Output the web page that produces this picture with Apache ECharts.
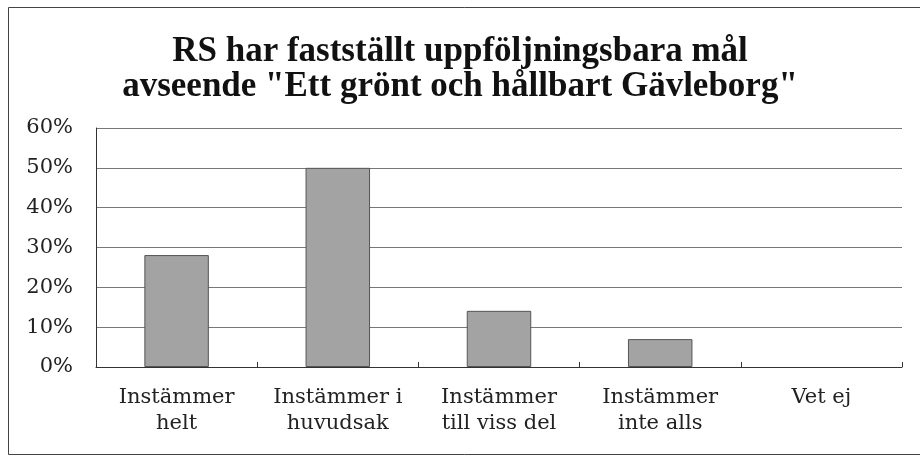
<!DOCTYPE html>
<html>
<head>
<meta charset="utf-8">
<script src="https://cdn.jsdelivr.net/npm/echarts@6/dist/echarts.min.js"></script>
<style>
  html, body { margin: 0; padding: 0; background: #fff; }
  #chart { width: 920px; height: 457px; }
</style>
</head>
<body>
<div id="chart"></div>
<script>
// svar (andel), läst ur bilden
const categories = [
  "Instämmer\nhelt",
  "Instämmer i\nhuvudsak",
  "Instämmer\ntill viss del",
  "Instämmer\ninte alls",
  "Vet ej",
];
const values = [28.1, 50.0, 14.1, 7.0, 0];
const yTicks = [0, 10, 20, 30, 40, 50, 60];

const serif = "Georgia, 'DejaVu Serif', 'Liberation Serif', serif";

const chart = echarts.init(document.getElementById("chart"), null, { renderer: "canvas" });

chart.setOption({
  backgroundColor: "#fff",
  animation: false,
  title: {
    text: 'RS har fastställt uppföljningsbara mål\navseende "Ett grönt och hållbart Gävleborg"',
    left: "center",
    top: 29,
    textStyle: {
      fontFamily: "'Liberation Serif', 'DejaVu Serif', serif",
      fontWeight: "bold",
      fontSize: 35,
      lineHeight: 35,
      color: "#111",
    },
  },
  graphic: [
    {
      type: "rect",
      shape: { x: 8.5, y: 7.5, width: 930, height: 447 },
      style: { fill: "none", stroke: "#444", lineWidth: 1 },
      silent: true,
    },
  ],
  grid: { left: 96, right: 18, top: 128, bottom: 90 },
  xAxis: {
    type: "category",
    data: categories,
    axisLine: { show: true, lineStyle: { color: "#333", width: 1 } },
    axisTick: { show: true, inside: true, length: 5, lineStyle: { color: "#333" } },
    axisLabel: {
      color: "#222",
      fontFamily: serif,
      fontSize: 21,
      lineHeight: 26,
      margin: 18,
      interval: 0,
    },
  },
  yAxis: {
    type: "value",
    min: yTicks[0],
    max: yTicks[yTicks.length - 1],
    interval: 10,
    axisLine: { show: true, lineStyle: { color: "#333", width: 1 } },
    axisTick: { show: false },
    axisLabel: {
      color: "#222",
      fontFamily: serif,
      fontSize: 21,
      margin: 23,
      formatter: (v) => v + "%",
    },
    splitLine: { show: true, lineStyle: { color: "#777", width: 1 } },
  },
  series: [
    {
      type: "bar",
      data: values.map((v) => (v === 0 ? { value: v, itemStyle: { borderWidth: 0 } } : v)),
      barWidth: "40%",
      itemStyle: {
        color: "#a3a3a3",
        borderColor: "#555",
        borderWidth: 1,
      },
    },
  ],
});
</script>
</body>
</html>
